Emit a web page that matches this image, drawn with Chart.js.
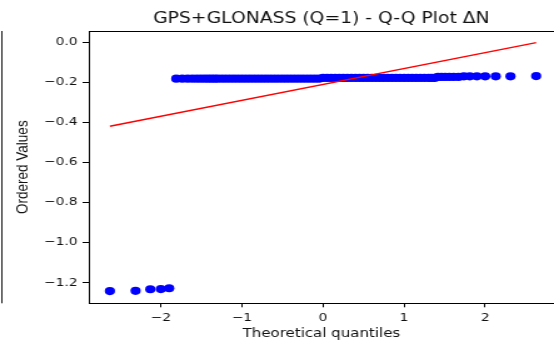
<!DOCTYPE html>
<html><head><meta charset="utf-8">
<script src="https://cdn.jsdelivr.net/npm/chart.js@4"></script>
<style>html,body{margin:0;padding:0;background:#fff;overflow:hidden}
#c{display:block;width:554px !important;height:348px !important}</style>
</head><body>
<canvas id="c" width="443" height="348" style="width:554px;height:348px"></canvas>
<script>
const chartTitle = "GPS+GLONASS (Q=1) - Q-Q Plot ΔN";
const xAxisLabel = "Theoretical quantiles";
const yAxisLabel = "Ordered Values";

const theoreticalQuantiles = [
  -2.630,-2.313,-2.131,-2.001,-1.898,
  -1.811,-1.737,-1.671,-1.612,-1.558,-1.508,-1.461,-1.418,-1.377,-1.338,-1.301,
  -1.25,-1.20,-1.15,-1.10,-1.05,-1.00,-0.95,-0.90,-0.85,-0.80,-0.75,-0.70,-0.65,
  -0.60,-0.55,-0.50,-0.45,-0.40,-0.35,-0.30,-0.25,-0.20,-0.15,-0.10,-0.05,
  0.00,0.05,0.10,0.15,0.20,0.25,0.30,0.35,0.40,0.45,0.50,0.55,0.60,0.65,
  0.70,0.75,0.80,0.85,0.90,0.95,1.00,1.05,1.10,1.15,1.20,1.25,
  1.301,1.338,1.377,1.418,1.461,1.508,1.558,1.612,1.671,1.737,1.811,1.898,2.001,2.131,2.313,2.630
];
const orderedValues = [
  -1.242,-1.241,-1.233,-1.232,-1.228,
  -0.183,-0.183,-0.183,-0.183,-0.183,-0.183,-0.183,-0.183,-0.183,-0.183,-0.183,
  -0.183,-0.183,-0.183,-0.183,-0.183,-0.183,-0.183,-0.183,-0.183,-0.183,-0.183,-0.183,-0.183,
  -0.183,-0.183,-0.183,-0.183,-0.183,-0.183,-0.183,-0.183,-0.183,-0.183,-0.183,-0.183,
  -0.179,-0.179,-0.179,-0.179,-0.179,-0.179,-0.179,-0.179,-0.179,-0.179,-0.179,-0.179,-0.179,-0.179,
  -0.179,-0.179,-0.179,-0.179,-0.179,-0.179,-0.179,-0.179,-0.179,-0.179,-0.179,-0.179,
  -0.179,-0.179,-0.179,-0.174,-0.174,-0.174,-0.174,-0.174,-0.174,-0.171,-0.171,-0.171,-0.171,-0.171,-0.171,-0.170
];
const fitLineX = [-2.630, 2.630];
const fitLineY = [-0.420, -0.003];

const xTicks = [-2, -1, 0, 1, 2];
const yTicks = [-1.2, -1.0, -0.8, -0.6, -0.4, -0.2, 0.0];
const xRange = [-2.89, 2.85];
const yRange = [-1.303, 0.055];

function fmt(v, d) {
  const s = Math.abs(v).toFixed(d);
  return (v < -1e-9 ? '\u2212' : '') + s;
}

const edgeLine = {
  id: 'edgeLine',
  afterDraw(chart) {
    const {ctx, chartArea} = chart;
    ctx.save();
    ctx.strokeStyle = '#222';
    ctx.lineWidth = 1;
    ctx.beginPath();
    ctx.moveTo(1.5, chartArea.top);
    ctx.lineTo(1.5, chartArea.bottom);
    ctx.stroke();
    ctx.restore();
  }
};

const tickFont = {family: 'DejaVu Sans', size: 11};

new Chart(document.getElementById('c'), {
  type: 'scatter',
  data: {
    datasets: [
      {
        label: 'fit',
        data: fitLineX.map((x, i) => ({x, y: fitLineY[i]})),
        showLine: true,
        borderColor: '#ff0000',
        borderWidth: 1.5,
        pointRadius: 0,
        fill: false
      },
      {
        label: 'data',
        data: theoreticalQuantiles.map((x, i) => ({x, y: orderedValues[i]})),
        pointRadius: 4.1,
        pointHoverRadius: 4.1,
        backgroundColor: '#0000ff',
        borderWidth: 0,
        showLine: false
      }
    ]
  },
  options: {
    responsive: false,
    maintainAspectRatio: false,
    devicePixelRatio: 1,
    animation: false,
    layout: {autoPadding: false, padding: {left: 0, right: 0, top: 0, bottom: 0}},
    plugins: {
      legend: {display: false},
      tooltip: {enabled: false},
      title: {
        display: true,
        text: chartTitle,
        fullSize: false,
        color: '#111',
        font: {family: 'DejaVu Sans', size: 15, weight: 'normal'},
        padding: {top: 10, bottom: 3}
      }
    },
    scales: {
      x: {
        type: 'linear',
        position: 'bottom',
        min: xRange[0],
        max: xRange[1],
        afterBuildTicks: (s) => { s.ticks = xTicks.map(v => ({value: v})); },
        afterFit: (s) => { s.height = 44.7; },
        ticks: {
          font: tickFont, color: '#111', padding: 4,
          callback: (v) => fmt(v, 0)
        },
        grid: {display: true, drawOnChartArea: false, drawTicks: true, tickLength: 4, color: '#000'},
        border: {display: true, color: '#000', width: 1},
        title: {
          display: true, text: xAxisLabel, color: '#111',
          font: {family: 'DejaVu Sans', size: 12},
          padding: {top: 2, bottom: 7}
        }
      },
      x2: {
        type: 'linear',
        position: 'top',
        display: true,
        grid: {display: false, drawTicks: false},
        ticks: {display: false},
        border: {display: true, color: '#000', width: 1}
      },
      y: {
        type: 'linear',
        position: 'left',
        min: yRange[0],
        max: yRange[1],
        afterBuildTicks: (s) => { s.ticks = yTicks.map(v => ({value: v})); },
        afterFit: (s) => { s.width = 71; },
        ticks: {
          font: tickFont, color: '#111', padding: 4,
          callback: (v) => fmt(v, 1)
        },
        grid: {display: true, drawOnChartArea: false, drawTicks: true, tickLength: 5, color: '#000'},
        border: {display: true, color: '#000', width: 1},
        title: {
          display: true, text: yAxisLabel, color: '#111',
          font: {family: 'Liberation Sans', size: 13.5},
          padding: {top: 10, bottom: 0}
        }
      }
    }
  },
  plugins: [edgeLine]
});
</script>
</body></html>
